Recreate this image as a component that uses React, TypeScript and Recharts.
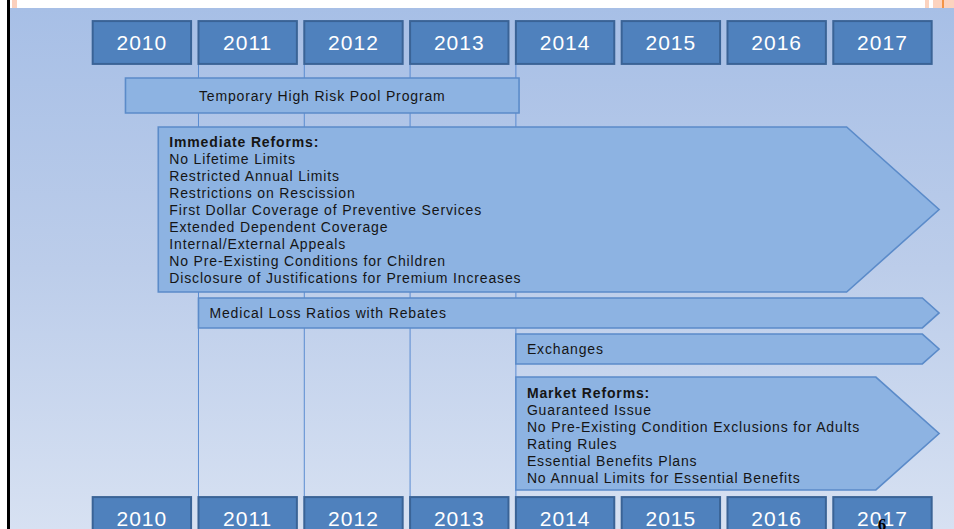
import { ComposedChart, XAxis, YAxis, ReferenceArea } from "recharts";

const W = 954;
const H = 529;
const LINE = 17; // px per vertical unit (one text line)
const FONT = '"Liberation Sans", Arial, sans-serif';

// timeline data
const years = [2010, 2011, 2012, 2013, 2014, 2015, 2016, 2017];
const dividerYears = [2011, 2012, 2013, 2014];

const programNames = [
  "Temporary High Risk Pool Program",
  "Immediate Reforms:",
  "Medical Loss Ratios with Rebates",
  "Exchanges",
  "Market Reforms:",
];
const programStart = [2010.31, 2010.62, 2011, 2014, 2014];
const programEnd = [2014.03, 2018, 2018, 2018, 2018];

const immediateReforms = [
  "No Lifetime Limits",
  "Restricted Annual Limits",
  "Restrictions on Rescission",
  "First Dollar Coverage of Preventive Services",
  "Extended Dependent Coverage",
  "Internal/External Appeals",
  "No Pre-Existing Conditions for Children",
  "Disclosure of Justifications for Premium Increases",
];
const marketReforms = [
  "Guaranteed Issue",
  "No Pre-Existing Condition Exclusions for Adults",
  "Rating Rules",
  "Essential Benefits Plans",
  "No Annual Limits for Essential Benefits",
];
const programItems = [[], immediateReforms, [], [], marketReforms];

// layout: lanes in line units (top, bottom)
const headerLane = [1.24, 3.76];
const footerLane = [29.24, 31.76];
const programLanes = [
  [4.59, 6.65],
  [7.47, 17.18],
  [17.53, 19.29],
  [19.65, 21.41],
  [22.18, 28.82],
];
const BOX_SPAN = 0.93;

function yearBox(label: number) {
  return (p: any) => (
    <g>
      <rect x={p.x} y={p.y} width={p.width} height={p.height} fill="#4f81bd" stroke="#3a6396" strokeWidth={2} />
      <text
        x={p.x + p.width / 2}
        y={p.y + 21.5}
        textAnchor="middle"
        dominantBaseline="central"
        fill="#ffffff"
        fontSize={21}
        fontFamily={FONT}
        style={{ letterSpacing: "1px" }}
      >
        {label}
      </text>
    </g>
  );
}

function divider() {
  return (p: any) => <line x1={p.x} x2={p.x} y1={p.y} y2={p.y + p.height} stroke="#5a8bd0" strokeWidth={1} />;
}

function programShape(i: number) {
  const title = programNames[i];
  const items = programItems[i];
  const arrow = programEnd[i] >= 2018;
  const centered = !arrow;
  return (p: any) => {
    const { x, y, width, height } = p;
    const head = arrow ? height * 0.56 : 0;
    const d = `M${x},${y} H${x + width - head} L${x + width},${y + height / 2} L${x + width - head},${y + height} H${x} Z`;
    const tx = centered ? x + width / 2 : x + 11;
    const lines = items.length ? [title, ...items] : [title];
    return (
      <g>
        <path d={d} fill="#8db3e2" stroke="#5b8bc9" strokeWidth={1.6} />
        {lines.map((t, k) => (
          <text
            key={k}
            x={tx}
            y={items.length ? y + 15.5 + k * LINE : y + height / 2}
            textAnchor={centered ? "middle" : "start"}
            dominantBaseline="central"
            fill="#151515"
            fontSize={14}
            fontWeight={items.length && k === 0 ? "bold" : "normal"}
            fontFamily={FONT}
            style={{ letterSpacing: "0.85px" }}
          >
            {t}
          </text>
        ))}
      </g>
    );
  };
}

export default function App() {
  const data = years.map((y) => ({ year: y }));
  return (
    <div style={{ position: "absolute", left: 0, top: 0, width: W, height: H, background: "#ffffff", overflow: "hidden" }}>
      <div
        style={{
          position: "absolute",
          left: 10,
          top: 8,
          right: 0,
          bottom: 0,
          background: "linear-gradient(to bottom, #a7bfe6 0%, #bccdea 50%, #d7e1f2 100%)",
        }}
      />
      <div style={{ position: "absolute", left: 7, top: 0, width: 3, height: H, background: "#000" }} />
      <div style={{ position: "absolute", left: 12, top: 0, width: 5, height: 8, background: "#fbd0bd" }} />
      <div style={{ position: "absolute", left: 925, top: 0, width: 4, height: 8, background: "#fcd3bf" }} />
      <div style={{ position: "absolute", left: 933, top: 0, width: 21, height: 8, background: "#fcd3bf" }} />
      <div style={{ position: "absolute", left: 942, top: 0, width: 2, height: 8, background: "#f39447" }} />
      <div style={{ position: "absolute", left: 0, top: 0 }}>
        <ComposedChart width={W} height={H} data={data} margin={{ top: 0, right: 0, bottom: 0, left: 0 }}>
          <XAxis type="number" dataKey="year" domain={[2009.124, 2018.141]} allowDataOverflow hide />
          <YAxis type="number" domain={[0, H / LINE]} reversed allowDataOverflow hide />
          {dividerYears.map((yr) => (
            <ReferenceArea
              key={`d${yr}`}
              x1={yr}
              x2={yr}
              y1={headerLane[1]}
              y2={footerLane[0]}
              ifOverflow="visible"
              shape={divider()}
            />
          ))}
          {years.map((yr) => (
            <ReferenceArea
              key={`h${yr}`}
              x1={yr}
              x2={yr + BOX_SPAN}
              y1={headerLane[0]}
              y2={headerLane[1]}
              ifOverflow="visible"
              shape={yearBox(yr)}
            />
          ))}
          {programNames.map((n, i) => (
            <ReferenceArea
              key={n}
              x1={programStart[i]}
              x2={programEnd[i]}
              y1={programLanes[i][0]}
              y2={programLanes[i][1]}
              ifOverflow="visible"
              shape={programShape(i)}
            />
          ))}
          {years.map((yr) => (
            <ReferenceArea
              key={`f${yr}`}
              x1={yr}
              x2={yr + BOX_SPAN}
              y1={footerLane[0]}
              y2={footerLane[1]}
              ifOverflow="visible"
              shape={yearBox(yr)}
            />
          ))}
        </ComposedChart>
      </div>
      <svg width={W} height={H} style={{ position: "absolute", left: 0, top: 0, pointerEvents: "none" }}>
        <text x={882} y={530} textAnchor="middle" fontSize={17} fontWeight="bold" fontFamily='"Liberation Serif", serif' fill="#000">
          6
        </text>
      </svg>
    </div>
  );
}
